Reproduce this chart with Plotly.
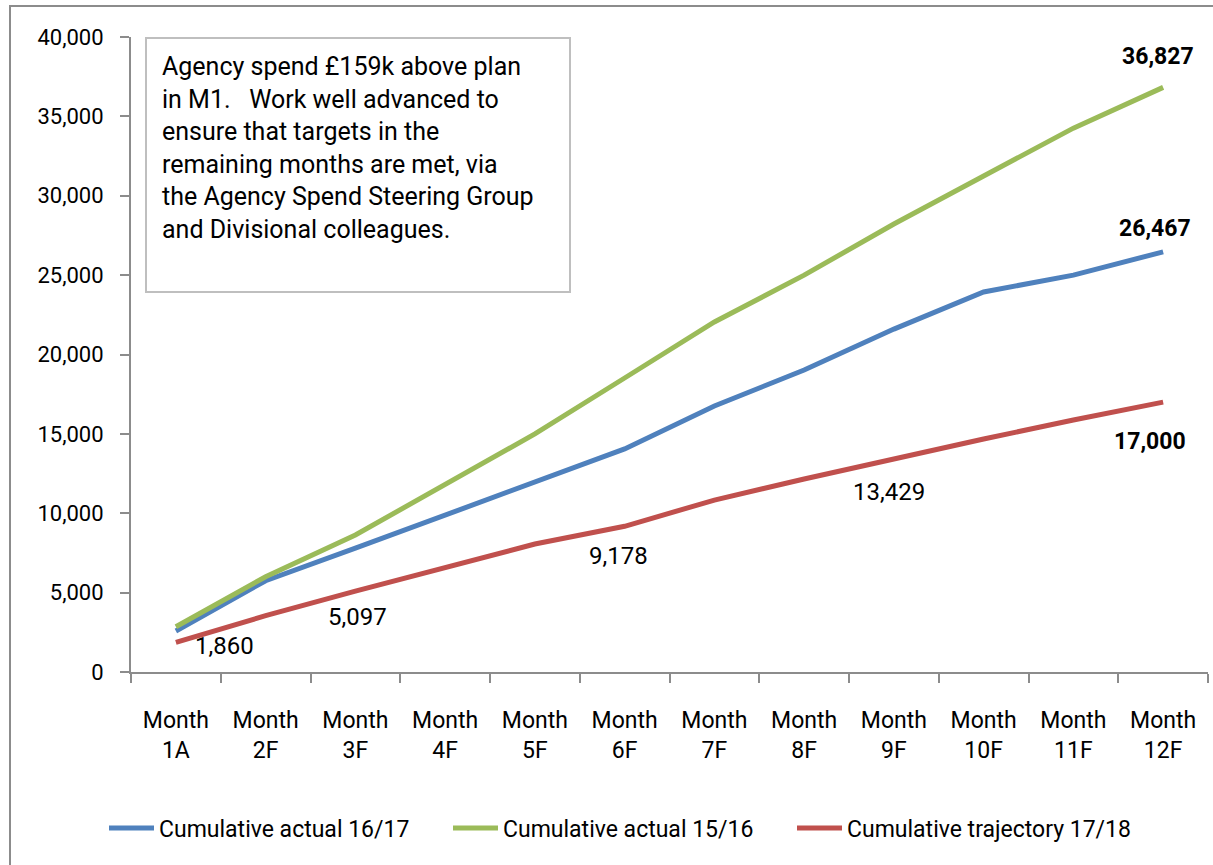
import plotly.graph_objects as go

months = ["Month<br>1A", "Month<br>2F", "Month<br>3F", "Month<br>4F", "Month<br>5F", "Month<br>6F",
          "Month<br>7F", "Month<br>8F", "Month<br>9F", "Month<br>10F", "Month<br>11F", "Month<br>12F"]
actual_1617 = [2580, 5750, 7800, 9900, 11970, 14050, 16760, 19020, 21600, 23940, 25000, 26467]
actual_1516 = [2850, 6000, 8630, 11780, 15000, 18520, 22050, 25000, 28220, 31240, 34260, 36827]
trajectory_1718 = [1860, 3550, 5097, 6600, 8060, 9178, 10830, 12160, 13429, 14680, 15870, 17000]

series_names = ["Cumulative actual 16/17", "Cumulative actual 15/16", "Cumulative trajectory 17/18"]
note_text = ("Agency spend £159k above plan<br>in M1.   Work well advanced to<br>ensure that targets in the<br>"
             "remaining months are met, via<br>the Agency Spend Steering Group<br>and Divisional colleagues.")

FONT = "Roboto, sans-serif"
colors = ["#4F81BD", "#9BBB59", "#C0504D"]

fig = go.Figure()
for name, vals, col in zip(series_names, [actual_1617, actual_1516, trajectory_1718], colors):
    fig.add_trace(go.Scatter(x=months, y=vals, mode="lines", name=name,
                             line=dict(color=col, width=5)))

# data labels: (series values, index, xshift, yshift, bold)
label_specs = [
    (actual_1516, 11, -5, 31, True),
    (actual_1617, 11, -8, 23, True),
    (trajectory_1718, 11, -13, -39, True),
    (trajectory_1718, 8, -5, -33, False),
    (trajectory_1718, 5, -6, -30, False),
    (trajectory_1718, 2, 2, -26, False),
    (trajectory_1718, 0, 49, -4, False),
]
for vals, i, xs, ys, bold in label_specs:
    txt = f"{vals[i]:,}"
    size = 24
    if bold:
        txt = f"<b>{txt}</b>"
        size = 23
    fig.add_annotation(x=months[i], y=vals[i], text=txt, showarrow=False,
                       xshift=xs, yshift=ys, font=dict(size=size, color="black", family=FONT))

W, H = 1213, 865
L, R, T, B = 131, 5, 37, 193
pw, ph = W - L - R, H - T - B

def px(x):
    return (x - L) / pw

def py(y):
    return (H - B - y) / ph

# outer chart border
fig.add_shape(type="rect", xref="paper", yref="paper",
              x0=px(10), x1=px(1216), y0=py(875), y1=py(6),
              line=dict(color="#8c8c8c", width=2), layer="below")
# note box
fig.add_shape(type="rect", xref="paper", yref="paper",
              x0=px(146), x1=px(570), y0=py(292), y1=py(38),
              line=dict(color="#bfbfbf", width=2), fillcolor="white")
fig.add_annotation(xref="paper", yref="paper", x=px(160), y=py(50), xanchor="left", yanchor="top",
                   text=note_text, align="left", showarrow=False,
                   font=dict(size=25, color="black", family=FONT))

fig.update_layout(
    width=W, height=H,
    margin=dict(l=L, r=R, t=T, b=B, autoexpand=False),
    paper_bgcolor="white", plot_bgcolor="white",
    font=dict(family=FONT, size=22, color="black"),
    showlegend=True,
    legend=dict(orientation="h", x=px(104), xanchor="left", y=py(828), yanchor="middle",
                font=dict(size=23, family=FONT), itemwidth=45, entrywidth=284,
                entrywidthmode="pixels", bgcolor="rgba(0,0,0,0)"),
    xaxis=dict(type="category", showgrid=False, showline=True, linecolor="#8c8c8c", linewidth=2,
               ticks="outside", tickson="boundaries", ticklen=9, tickcolor="#8c8c8c", tickwidth=2,
               ticklabelstandoff=26, tickfont=dict(size=23, family=FONT), range=[-0.5, 11.5]),
    yaxis=dict(range=[0, 40000], dtick=5000, tickformat=",", showgrid=False, zeroline=False,
               showline=True, linecolor="#8c8c8c", linewidth=2, ticks="outside", ticklen=9,
               tickcolor="#8c8c8c", tickwidth=2, ticklabelstandoff=12,
               tickfont=dict(size=22, family=FONT)),
)

fig.write_html("out.html", config={"displayModeBar": False},
               post_script="document.body.style.margin='0';")
